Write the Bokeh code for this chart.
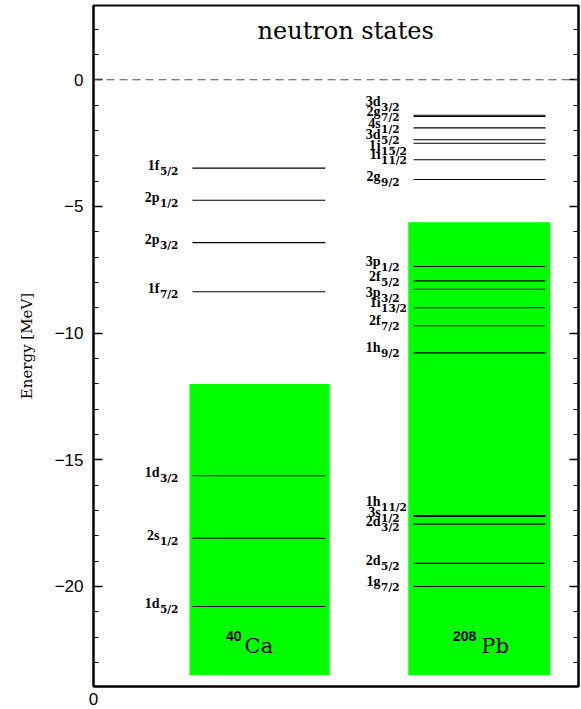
from bokeh.plotting import figure
from bokeh.models import (Range1d, LinearAxis, SingleIntervalTicker, FixedTicker,
                          Span, ColumnDataSource, CustomJSTickFormatter)
from bokeh.core.properties import value
from bokeh.embed import file_html
from bokeh.resources import INLINE

# ---------------- data ----------------
ca_orbit = ["1d", "2s", "1d", "1f", "2p", "2p", "1f"]
ca_j = ["5/2", "1/2", "3/2", "7/2", "3/2", "1/2", "5/2"]
ca_energy = [-20.79, -18.10, -15.63, -8.37, -6.43, -4.76, -3.49]

pb_orbit = ["1g", "2d", "2d", "3s", "1h", "1h", "2f", "1i", "3p", "2f", "3p",
            "2g", "1i", "1j", "3d", "4s", "2g", "3d"]
pb_j = ["7/2", "5/2", "3/2", "1/2", "11/2", "9/2", "7/2", "13/2", "3/2", "5/2", "1/2",
        "9/2", "11/2", "15/2", "5/2", "1/2", "7/2", "3/2"]
pb_energy = [-20.00, -19.09, -17.54, -17.24, -17.20, -10.78, -9.71, -9.00, -8.27, -7.94, -7.37,
             -3.94, -3.16, -2.51, -2.37, -1.90, -1.45, -1.40]

nuclei_mass = ["40", "208"]
nuclei_symbol = ["Ca", "Pb"]
well_top = [-12.01, -5.63]
well_bottom = [-23.5, -23.5]

y_ticks_interval = 5

# ---------------- layout constants (positions / styles) ----------------
CA_BOX = (0.198, 0.487)
PB_BOX = (0.649, 0.942)
CA_LINE = (0.204, 0.478)
PB_LINE = (0.660, 0.932)
GREEN = "#00ff00"
MAIN_FONT = value("Liberation Serif")
SUB_FONT = value("DejaVu Serif")
SERIF = value("DejaVu Serif")
SANS = value("Liberation Sans")

# extra pixel shifts of the crowded 208Pb labels (screen px, + = down)
pb_label_shift = [-0.5, 1, 1.5, 0, -9.5, -1.5, -1.5, -1, 7, 0, -0.5,
                  1, -1, 6, -1, 0, -0.5, -9.5]
ca_label_shift = [1, 1, 1, 1, 1, 1, 1.5]

p = figure(width=581, height=709, output_backend="svg", toolbar_location=None,
           x_range=Range1d(0, 1), y_range=Range1d(-23.95, 2.93),
           min_border_left=93, min_border_right=3, min_border_top=5, min_border_bottom=23,
           background_fill_color="white", border_fill_color="white")
p.xgrid.visible = False
p.ygrid.visible = False
p.outline_line_color = "black"
p.outline_line_width = 2

# left axis
ticker = SingleIntervalTicker(interval=y_ticks_interval, num_minor_ticks=5)
fmt = CustomJSTickFormatter(code="return tick < 0 ? '\u2212' + Math.abs(tick) : String(tick);")
yax = p.yaxis[0]
yax.ticker = ticker
yax.formatter = fmt
yax.major_tick_in = 9
yax.major_tick_out = 0
yax.minor_tick_in = 5
yax.minor_tick_out = 0
yax.axis_line_width = 2
yax.major_tick_line_width = 1.5
yax.minor_tick_line_width = 1.2
yax.major_label_text_font = "Liberation Sans"
yax.major_label_text_font_size = "17px"
yax.major_label_text_color = "black"
yax.major_label_standoff = 10
yax.axis_label = "Energy [MeV]"
yax.axis_label_text_font = "DejaVu Serif"
yax.axis_label_text_font_style = "normal"
yax.axis_label_text_font_size = "15px"
yax.axis_label_text_color = "black"
yax.axis_label_standoff = 16

# right axis (ticks only, blank labels)
rax = LinearAxis(ticker=SingleIntervalTicker(interval=y_ticks_interval, num_minor_ticks=5),
                 formatter=CustomJSTickFormatter(code="return '';"),
                 major_tick_in=9, major_tick_out=0, minor_tick_in=5, minor_tick_out=0,
                 axis_line_width=2, major_tick_line_width=1.5, minor_tick_line_width=1.2,
                 major_label_standoff=0)
p.add_layout(rax, "right")

# bottom axis
xax = p.xaxis[0]
xax.ticker = FixedTicker(ticks=[0], minor_ticks=[])
xax.major_tick_in = 0
xax.major_tick_out = 0
xax.axis_line_width = 2
xax.major_label_text_font = "Liberation Sans"
xax.major_label_text_font_size = "17px"
xax.major_label_text_color = "black"
xax.major_label_standoff = 6

# zero line
p.add_layout(Span(location=0, dimension="width", line_color="#555555",
                  line_width=1.2, line_dash="8 5"))

# wells
p.quad(left=[CA_BOX[0], PB_BOX[0]], right=[CA_BOX[1], PB_BOX[1]],
       bottom=well_bottom, top=well_top, fill_color=GREEN, line_color=None)

# levels
def draw_levels(energy, orbit, jj, xr, shifts):
    n = len(energy)
    src = ColumnDataSource(dict(
        x0=[xr[0]] * n, x1=[xr[1]] * n, y=energy, orb=orbit, j=jj,
        main_off=[-4 + s for s in shifts], sub_off=[1.5 + s for s in shifts]))
    p.segment(x0="x0", y0="y", x1="x1", y1="y", source=src,
              line_color="black", line_width=1.1)
    p.text(x="x0", y="y", text="orb", source=src, x_offset=-33, y_offset="main_off",
           text_align="right", text_baseline="middle", text_font=MAIN_FONT,
           text_font_style="bold", text_font_size="14px", text_color="black")
    p.text(x="x0", y="y", text="j", source=src, x_offset=-32.5, y_offset="sub_off",
           text_align="left", text_baseline="middle", text_font=SUB_FONT,
           text_font_style="bold", text_font_size="10.5px", text_color="black")

draw_levels(ca_energy, ca_orbit, ca_j, CA_LINE, ca_label_shift)
draw_levels(pb_energy, pb_orbit, pb_j, PB_LINE, pb_label_shift)

# nucleus names
centers = [(CA_BOX[0] + CA_BOX[1]) / 2, (PB_BOX[0] + PB_BOX[1]) / 2]
p.text(x=[centers[0]], y=[well_bottom[0]], text=[nuclei_symbol[0]], x_offset=-15, y_offset=-29,
       text_align="left", text_baseline="middle", text_font=SERIF, text_font_size="21px",
       text_color="black")
p.text(x=[centers[0]], y=[well_bottom[0]], text=[nuclei_mass[0]], x_offset=-18, y_offset=-39,
       text_align="right", text_baseline="middle", text_font=SANS, text_font_style="bold",
       text_font_size="14px", text_color="black")
p.text(x=[centers[1]], y=[well_bottom[1]], text=[nuclei_symbol[1]], x_offset=2, y_offset=-29,
       text_align="left", text_baseline="middle", text_font=SERIF, text_font_size="21px",
       text_color="black")
p.text(x=[centers[1]], y=[well_bottom[1]], text=[nuclei_mass[1]], x_offset=-3, y_offset=-39,
       text_align="right", text_baseline="middle", text_font=SANS, text_font_style="bold",
       text_font_size="14px", text_color="black")

# title inside the frame
p.text(x=[0.52], y=[1.94], text=["neutron states"], text_align="center",
       text_baseline="middle", text_font=SERIF, text_font_size="24px", text_color="black")

open("out.html", "w").write(file_html(p, INLINE))
